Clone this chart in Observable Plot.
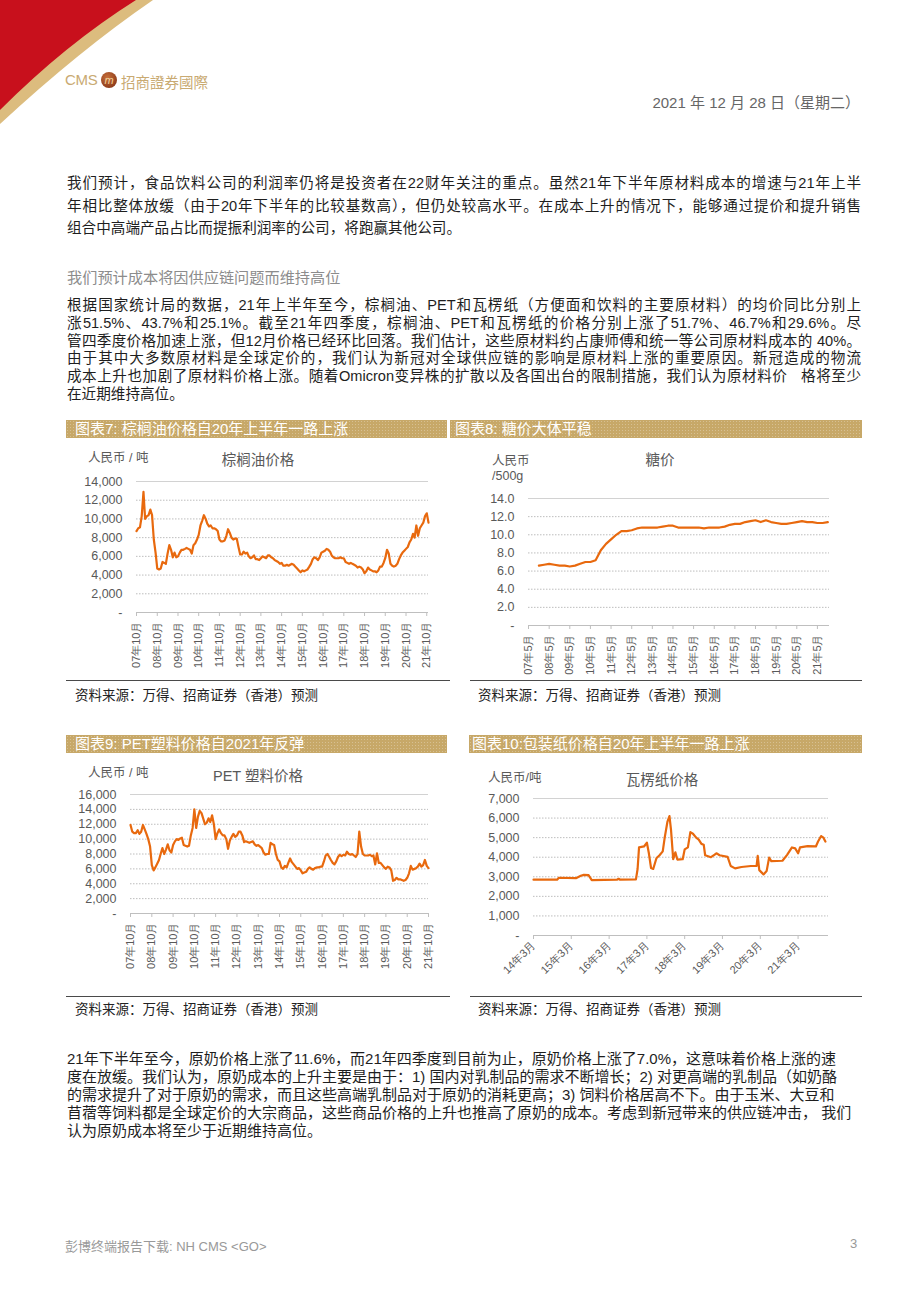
<!DOCTYPE html>
<html><head><meta charset="utf-8">
<script src="https://cdn.jsdelivr.net/npm/d3@7"></script>
<script src="https://cdn.jsdelivr.net/npm/@observablehq/plot@0.6"></script>
<style>
body{margin:0;background:#fff;}
#page{position:relative;width:920px;height:1300px;overflow:hidden;font-family:"Liberation Sans","Noto Sans CJK SC",sans-serif;color:#1e1e1e;}
.abs{position:absolute;white-space:nowrap;}
.ln{position:absolute;left:67px;width:794px;font-size:14.6px;height:20px;line-height:20px;}
.j{text-align:justify;text-align-last:justify;}
.bar{position:absolute;height:18px;line-height:18px;color:#fff;font-size:15px;white-space:nowrap;overflow:hidden;
 background-color:#c7a868;background-image:radial-gradient(rgba(255,255,255,0.28) 0.7px,transparent 0.9px);background-size:3px 3px;}
.src{position:absolute;font-size:13.5px;color:#222;white-space:nowrap;}
.sep{position:absolute;height:0;border-top:1.5px solid #4a4a4a;}
.unit{position:absolute;font-size:12.5px;color:#595959;white-space:nowrap;line-height:15px;}
.ttl{position:absolute;font-size:14.5px;color:#595959;white-space:nowrap;transform:translateX(-50%);}
</style></head>
<body><div id="page"></div>
<script>
// ---------------- data ----------------
const xTickYearsOct = [2007,2008,2009,2010,2011,2012,2013,2014,2015,2016,2017,2018,2019,2020,2021];
const xTickYearsMay = [2007,2008,2009,2010,2011,2012,2013,2014,2015,2016,2017,2018,2019,2020,2021];
const xTickYearsMar = [2014,2015,2016,2017,2018,2019,2020,2021];

// palm oil, monthly from 2007-10 (RMB/ton)
const palmStart = "2007-10-01";
const palmPrices = [
 8700,9000,9100,
 10300,12900,10000,10300,10400,11000,10400,7800,6400,4700,4600,4700,
 5400,5300,5200,6300,7200,6700,5900,6400,5900,6000,6400,6700,
 6700,6800,6900,6800,6700,6300,7200,7400,7800,8300,9300,9800,
 10400,10000,9500,9200,9300,9000,9000,8900,8700,7800,7600,7600,
 7700,8200,8900,8500,8000,7800,7900,7900,7000,6200,6200,6500,
 6300,6400,6000,5800,5900,6100,5700,5700,5600,5800,6000,5900,
 5800,6100,6100,5900,5800,5600,5500,5400,5200,5300,5000,5000,
 5100,5000,5100,5200,5100,4900,4700,4500,4300,4500,4400,4500,
 4600,4900,5200,5700,5900,5800,5600,5900,6400,6500,6600,6800,
 6700,6500,6100,5900,5800,5800,5800,5900,5800,5800,5400,5300,
 5200,5300,5200,5100,5000,4800,4900,4800,4600,4200,4400,4800,
 4600,4500,4400,4400,4300,4500,4900,4900,5300,5800,6700,6300,
 5200,5000,4900,5000,5200,5700,6100,6400,6600,6800,7000,7500,
 7800,8400,8000,9300,8200,9000,9300,9600,10300,10600,9600
];

// sugar, quarterly from 2007-11 (RMB/500g)
const sugarStart = "2007-11-01";
const sugarPrices = [
 6.6, 6.7,6.8,6.7,6.6, 6.6,6.5,6.6,6.8, 7.0,7.0,7.2,8.3, 9.0,9.5,10.0,10.4,
 10.4,10.5,10.7,10.8, 10.8,10.8,10.8,10.9, 11.0,11.0,10.8,10.8, 10.8,10.8,10.8,10.7,
 10.8,10.8,10.8,10.9, 11.1,11.2,11.2,11.4, 11.5,11.6,11.4,11.6, 11.4,11.3,11.2,11.2,
 11.3,11.4,11.5,11.4, 11.4,11.3,11.3,11.4
];

// PET, monthly from 2007-10 (RMB/ton)
const petStart = "2007-10-01";
const petPrices = [
 11900,11000,10800,
 10800,11200,10700,11000,11900,11300,10700,10000,9000,6500,5800,6200,
 6700,7200,8000,8800,8000,8600,9300,8500,8200,9200,9700,10000,
 9900,10100,10200,9200,9100,9000,9100,10500,11500,14000,11500,13000,
 13800,13500,12800,12000,12200,12800,12300,13200,12000,10000,10800,11300,
 10800,10500,10500,10000,8700,9800,10300,10700,10300,10500,11000,11000,
 10500,9600,9700,9600,9500,9600,9700,9300,9100,9200,9000,8800,
 8200,7900,8000,8000,9500,9300,9200,8000,7200,7000,6200,6000,
 6400,6200,6800,7400,6900,6600,6300,6000,6100,5800,5400,5500,
 5600,6000,6200,6000,5900,6100,6200,6200,6300,6300,7000,7800,
 8000,7600,7200,6800,6600,7000,7600,7900,7700,7900,7800,8300,
 8000,7900,8000,7800,7600,8000,11000,9000,8000,7800,7800,7800,
 7900,7700,7800,6600,8100,6800,6800,6500,6200,6000,6300,6200,
 5800,4400,4500,4800,4600,4600,4500,4400,4500,4800,5400,6400,
 5900,6000,6100,6300,6700,6300,6500,7200,6400,6100
];

// corrugated paper (RMB/ton)
const paperDates = [
 "2014-03-01","2014-10-15","2014-11-01","2015-04-15","2015-06-01","2015-07-01","2015-08-15","2015-09-15",
 "2016-05-15","2016-06-01","2016-06-15","2016-11-15","2016-12-01","2016-12-15","2017-02-01","2017-03-01",
 "2017-03-20","2017-04-10","2017-05-01","2017-06-01","2017-07-01","2017-08-01","2017-08-20","2017-09-15",
 "2017-10-05","2017-10-20","2017-11-10","2017-12-01","2017-12-20","2018-02-10","2018-03-01","2018-04-01",
 "2018-04-25","2018-05-20","2018-06-20","2018-07-15","2018-08-10","2018-09-01","2018-09-15","2018-11-10",
 "2018-12-20","2019-01-05","2019-02-01","2019-04-20","2019-05-20","2019-07-01","2019-09-01","2019-12-01",
 "2020-01-25","2020-02-05","2020-02-20","2020-04-01","2020-05-01","2020-05-25","2020-06-15","2020-10-01",
 "2020-11-15","2021-01-01","2021-02-01","2021-03-01","2021-03-20","2021-06-01","2021-08-20","2021-09-10",
 "2021-10-10","2021-11-01","2021-11-20"
];
const paperPrices = [
 2850,2850,2950,2930,3050,3100,3080,2830,
 2850,2900,2850,2870,3400,4500,4550,4740,
 4200,3450,3400,3950,4100,4300,5000,5800,
 6100,5400,3900,4250,3880,3900,4400,4500,
 5280,5200,5000,4900,4680,4640,4100,4000,
 4150,4200,4100,4020,3550,3430,3500,3550,
 3560,4070,3340,3120,3290,3980,3800,3820,
 4120,4500,4450,4200,4500,4570,4550,4800,
 5080,5000,4800
];

const panelTitles = ["图表7: 棕榈油价格自20年上半年一路上涨","图表8: 糖价大体平稳","图表9: PET塑料价格自2021年反弹","图表10:包装纸价格自20年上半年一路上涨"];
const chartTitles = ["棕榈油价格","糖价","PET 塑料价格","瓦楞纸价格"];
const sourceText = "资料来源：万得、招商证券（香港）预测";

// ---------------- helpers ----------------
const page = document.getElementById("page");
const utc = s => new Date(s + (s.length === 10 ? "T00:00:00Z" : ""));
const monthly = (start, vals, step) => vals.map((v, i) => ({date: d3.utcMonth.offset(utc(start), i * step), value: v}));
function add(html) { page.insertAdjacentHTML("beforeend", html); }
function put(el, left, top) { const d = document.createElement("div"); d.style.position = "absolute"; d.style.left = left + "px"; d.style.top = top + "px"; d.appendChild(el); page.appendChild(d); }

function chart(c) {
  const yTicks = d3.range(0, c.yMax + c.yStep / 2, c.yStep);
  const svg = Plot.plot({
    width: c.w, height: c.h,
    marginTop: c.m[0], marginRight: c.m[1], marginBottom: c.m[2], marginLeft: c.m[3],
    style: {background: "transparent", fontFamily: '"Liberation Sans", Arial, sans-serif', color: "#595959", overflow: "visible"},
    x: {type: "utc", domain: c.xDomain},
    y: {domain: [0, c.yMax]},
    marks: [
      Plot.gridY(yTicks.filter(v => v > 0 && v < c.yMax), {stroke: "#bdbdbd", strokeOpacity: 1, strokeDasharray: "1.5,1.5"}),
      Plot.ruleY([c.yMax], {stroke: "#d2d2d2"}),
      Plot.ruleY([0], {stroke: "#bfbfbf"}),
      Plot.axisY(yTicks, {tickSize: 0, tickPadding: c.yPad, tickFormat: c.yFmt, fontSize: 12.5, fill: "#595959", label: null}),
      Plot.axisX(c.xTicks, {tickSize: 4, tickPadding: c.xPad, tickRotate: c.rotate, tickFormat: c.xFmt, fontSize: 11, stroke: "#bfbfbf", fill: "#595959", label: null}),
      Plot.line(c.data, {x: "date", y: "value", stroke: "#e8690e", strokeWidth: 2.2, strokeLinejoin: "round"})
    ]
  });
  put(svg, c.left, c.top);
}
const fmtK = v => v === 0 ? "-" : d3.format(",")(v);
const fmt1 = v => v === 0 ? "-" : v.toFixed(1);
const yy = d => String(d.getUTCFullYear()).slice(2);

// ---------------- decorations & header ----------------
add(`<svg class="abs" style="left:0;top:0" width="175" height="135">
 <path d="M0,0 H153 Q80,50 0,124 Z" fill="#dcbc7e"/>
 <path d="M0,0 H136 Q66,44 0,110 Z" fill="#c8101c"/>
</svg>`);
add(`<div class="abs" style="left:65px;top:71px;font-size:15px;color:#c9aa72;letter-spacing:-0.3px;">CMS</div>`);
add(`<div class="abs" style="left:101px;top:72px;width:16px;height:16px;border-radius:50%;background:radial-gradient(circle at 40% 35%,#c8703a,#7a2a10);color:#f2d29a;font-size:11px;line-height:16px;text-align:center;font-style:italic;">m</div>`);
add(`<div class="abs" style="left:121px;top:71px;font-size:14.5px;color:#c9aa72;font-family:'Noto Sans CJK TC';">招商證券國際</div>`);
add(`<div class="abs" style="right:60px;top:91px;font-size:15px;color:#666;">2021 年 12 月 28 日（星期二）</div>`);

// ---------------- paragraphs ----------------
const p1 = ["我们预计，食品饮料公司的利润率仍将是投资者在22财年关注的重点。虽然21年下半年原材料成本的增速与21年上半",
 "年相比整体放缓（由于20年下半年的比较基数高），但仍处较高水平。在成本上升的情况下，能够通过提价和提升销售",
 "组合中高端产品占比而提振利润率的公司，将跑赢其他公司。"];
p1.forEach((t, i) => add(`<div class="ln ${i < p1.length - 1 ? "j" : ""}" style="top:${173 + i * 22.5}px">${t}</div>`));
add(`<div class="abs" style="left:67px;top:268px;font-size:15.2px;color:#8c8c8c;line-height:20px;">我们预计成本将因供应链问题而维持高位</div>`);
const p2 = ["根据国家统计局的数据，21年上半年至今，棕榈油、PET和瓦楞纸（方便面和饮料的主要原材料）的均价同比分别上",
 "涨51.5%、43.7%和25.1%。截至21年四季度，棕榈油、PET和瓦楞纸的价格分别上涨了51.7%、46.7%和29.6%。尽",
 "管四季度价格加速上涨，但12月价格已经环比回落。我们估计，这些原材料约占康师傅和统一等公司原材料成本的 40%。",
 "由于其中大多数原材料是全球定价的，我们认为新冠对全球供应链的影响是原材料上涨的重要原因。新冠造成的物流",
 "成本上升也加剧了原材料价格上涨。随着Omicron变异株的扩散以及各国出台的限制措施，我们认为原材料价 &nbsp; 格将至少",
 "在近期维持高位。"];
p2.forEach((t, i) => add(`<div class="ln ${i < p2.length - 1 ? "j" : ""}" style="top:${295 + i * 17.8}px">${t}</div>`));
const p3 = ["21年下半年至今，原奶价格上涨了11.6%，而21年四季度到目前为止，原奶价格上涨了7.0%，这意味着价格上涨的速",
 "度在放缓。我们认为，原奶成本的上升主要是由于：1) 国内对乳制品的需求不断增长；2) 对更高端的乳制品（如奶酪",
 "的需求提升了对于原奶的需求，而且这些高端乳制品对于原奶的消耗更高；3) 饲料价格居高不下。由于玉米、大豆和",
 "苜蓿等饲料都是全球定价的大宗商品，这些商品价格的上升也推高了原奶的成本。考虑到新冠带来的供应链冲击， 我们",
 "认为原奶成本将至少于近期维持高位。"];
p3.forEach((t, i) => add(`<div class="ln" style="top:${1049 + i * 18}px;font-size:15px;white-space:nowrap;">${t}</div>`));

// ---------------- panel frames ----------------
add(`<div class="bar" style="left:66px;top:420px;width:381px;padding-left:9px;box-sizing:border-box;">${panelTitles[0]}</div>`);
add(`<div class="bar" style="left:450px;top:420px;width:412px;padding-left:5px;box-sizing:border-box;">${panelTitles[1]}</div>`);
add(`<div class="bar" style="left:66px;top:735px;width:381px;padding-left:9px;box-sizing:border-box;">${panelTitles[2]}</div>`);
add(`<div class="bar" style="left:469px;top:735px;width:393px;padding-left:3px;box-sizing:border-box;">${panelTitles[3]}</div>`);

add(`<div class="unit" style="left:88px;top:451px;">人民币 / 吨</div>`);
add(`<div class="ttl" style="left:258px;top:448px;">${chartTitles[0]}</div>`);
add(`<div class="unit" style="left:492px;top:454px;">人民币<br>/500g</div>`);
add(`<div class="ttl" style="left:660px;top:448px;">${chartTitles[1]}</div>`);
add(`<div class="unit" style="left:88px;top:766px;">人民币 / 吨</div>`);
add(`<div class="ttl" style="left:258px;top:764px;">${chartTitles[2]}</div>`);
add(`<div class="unit" style="left:488px;top:771px;">人民币/吨</div>`);
add(`<div class="ttl" style="left:662px;top:768px;">${chartTitles[3]}</div>`);

add(`<div class="sep" style="left:66px;top:680px;width:384px;"></div>`);
add(`<div class="sep" style="left:470px;top:680px;width:392px;"></div>`);
add(`<div class="sep" style="left:66px;top:996px;width:384px;"></div>`);
add(`<div class="sep" style="left:470px;top:996px;width:392px;"></div>`);
add(`<div class="src" style="left:75px;top:684px;">${sourceText}</div>`);
add(`<div class="src" style="left:478px;top:684px;">${sourceText}</div>`);
add(`<div class="src" style="left:75px;top:998px;">${sourceText}</div>`);
add(`<div class="src" style="left:478px;top:998px;">${sourceText}</div>`);

// ---------------- charts ----------------
chart({
  data: monthly(palmStart, palmPrices, 1),
  xDomain: [utc("2007-10-01"), utc("2021-11-01")],
  xTicks: xTickYearsOct.map(y => new Date(Date.UTC(y, 9, 1))),
  xFmt: d => yy(d) + "年10月", rotate: -90, xPad: 5,
  yMax: 14000, yStep: 2000, yFmt: fmtK, yPad: 14,
  left: 64, top: 440, w: 386, h: 240, m: [41, 22, 68, 72]
});
chart({
  data: monthly(sugarStart, sugarPrices, 3),
  xDomain: [utc("2007-05-01"), utc("2021-12-01")],
  xTicks: xTickYearsMay.map(y => new Date(Date.UTC(y, 4, 1))),
  xFmt: d => yy(d) + "年5月", rotate: -90, xPad: 5,
  yMax: 14, yStep: 2, yFmt: fmt1, yPad: 14,
  left: 450, top: 440, w: 412, h: 240, m: [58, 33, 55, 78]
});
chart({
  data: monthly(petStart, petPrices, 1),
  xDomain: [utc("2007-10-01"), utc("2021-10-01")],
  xTicks: xTickYearsOct.map(y => new Date(Date.UTC(y, 9, 1))),
  xFmt: d => yy(d) + "年10月", rotate: -90, xPad: 5,
  yMax: 16000, yStep: 2000, yFmt: fmtK, yPad: 14,
  left: 64, top: 755, w: 386, h: 240, m: [39, 22, 82, 66]
});
chart({
  data: paperDates.map((d, i) => ({date: utc(d), value: paperPrices[i]})),
  xDomain: [utc("2014-03-01"), utc("2021-12-20")],
  xTicks: xTickYearsMar.map(y => new Date(Date.UTC(y, 2, 1))),
  xFmt: d => yy(d) + "年3月", rotate: -45, xPad: 4,
  yMax: 7000, yStep: 1000, yFmt: fmtK, yPad: 14,
  left: 468, top: 755, w: 394, h: 240, m: [43, 34, 60, 65]
});

// ---------------- footer ----------------
add(`<div class="abs" style="left:65px;top:1236px;font-size:13px;color:#999;">彭博终端报告下载: NH CMS &lt;GO&gt;</div>`);
add(`<div class="abs" style="left:850px;top:1236px;font-size:13px;color:#999;">3</div>`);
</script></body></html>
